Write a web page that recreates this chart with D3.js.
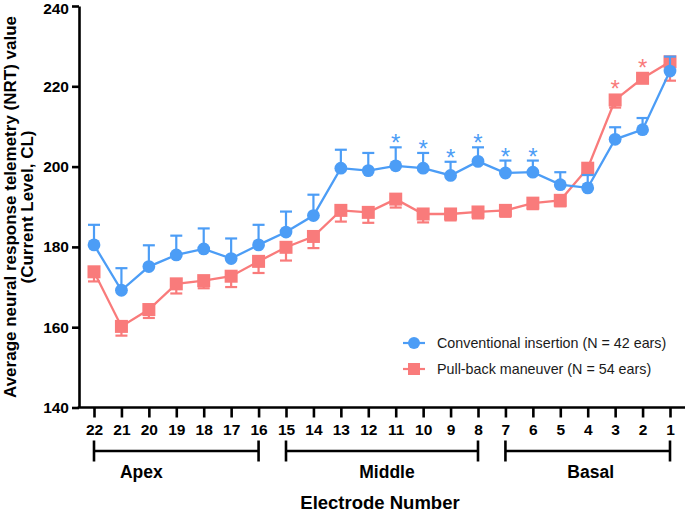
<!DOCTYPE html>
<html>
<head>
<meta charset="utf-8">
<script src="https://cdn.jsdelivr.net/npm/d3@7"></script>
<style>
html,body{margin:0;padding:0;background:#fff;}
svg{display:block;font-family:"Liberation Sans",Arial,sans-serif;}
</style>
</head>
<body>
<svg id="chart" width="685" height="514"></svg>
<script>
// ---- data ----
const electrodes = ["22","21","20","19","18","17","16","15","14","13","12","11","10","9","8","7","6","5","4","3","2","1"];
const conventionalMean = [180.5,169.2,175.1,178.0,179.5,177.1,180.5,183.7,187.8,199.6,199.0,200.2,199.6,197.8,201.3,198.4,198.6,195.5,194.7,206.8,209.2,223.8];
const conventionalSEM  = [5.0,5.5,5.3,4.8,5.1,5.0,5.0,5.1,5.2,4.6,4.4,4.6,3.8,3.4,3.5,3.1,2.9,3.1,3.2,3.0,2.9,3.6];
const pullbackMean = [173.8,160.2,164.4,170.8,171.6,172.7,176.4,179.9,182.6,189.1,188.6,191.9,188.2,188.2,188.7,189.1,190.9,191.6,199.6,216.6,222.0,226.1];
const pullbackSEM  = [2.4,2.3,2.1,2.4,1.9,2.7,2.9,3.3,2.9,2.8,2.6,2.1,2.1,1.6,1.6,1.6,1.5,1.5,1.2,1.9,1.2,4.7];
const conventionalStars = ["11","10","9","8","7","6"];
const pullbackStars = ["3","2"];
const yTicks = [140,160,180,200,220,240];
const groupNames = ["Apex","Middle","Basal"];
const groupStart = ["22","15","7"];
const groupEnd = ["16","8","1"];
const seriesNames = ["Conventional insertion (N = 42 ears)","Pull-back maneuver (N = 54 ears)"];
const xTitle = "Electrode Number";
const yTitle1 = "Average neural response telemetry (NRT) value";
const yTitle2 = "(Current Level, CL)";

// ---- styles ----
const BLUE = "#4c9df6", PINK = "#f97b7b";
const svg = d3.select("#chart");

const x = d3.scalePoint().domain(electrodes).range([94,670]);
const y = d3.scaleLinear().domain([140,240]).range([407.5,6]);
const axisX0 = 79;

// y axis
const yAxis = svg.append("g").attr("transform",`translate(${axisX0},0)`)
  .call(d3.axisLeft(y).tickValues(yTicks).tickSize(7).tickPadding(3).tickSizeOuter(0));
yAxis.select(".domain").attr("stroke","#000").attr("stroke-width",2.6);
yAxis.selectAll(".tick line").attr("stroke","#000").attr("stroke-width",2.6);
yAxis.selectAll(".tick text").attr("font-size",15.5).attr("font-weight","bold").attr("fill","#000")
  .attr("font-family","'Liberation Sans',Arial,sans-serif");
// keep the topmost label fully inside the picture
yAxis.selectAll(".tick").filter(d=>d===240).select("text").attr("dy","0.5em");

// x axis
const xAxis = svg.append("g").attr("transform",`translate(0,${y(140)})`)
  .call(d3.axisBottom(x).tickSize(10).tickPadding(6).tickSizeOuter(0));
xAxis.select(".domain").remove();
xAxis.append("line").attr("x1",axisX0-1.3).attr("x2",685).attr("y1",0).attr("y2",0)
  .attr("stroke","#000").attr("stroke-width",2.6);
xAxis.selectAll(".tick line").attr("stroke","#000").attr("stroke-width",2.6);
xAxis.selectAll(".tick text").attr("font-size",15.5).attr("font-weight","bold").attr("fill","#000")
  .attr("font-family","'Liberation Sans',Arial,sans-serif");

// group brackets
const gb = svg.append("g");
const labelShift = [-35, 5, 3];
groupNames.forEach((name,i)=>{
  const a = x(groupStart[i]), b = x(groupEnd[i]);
  gb.append("line").attr("x1",a).attr("x2",b).attr("y1",451).attr("y2",451).attr("stroke","#000").attr("stroke-width",2.6);
  gb.append("line").attr("x1",a).attr("x2",a).attr("y1",440.5).attr("y2",461.5).attr("stroke","#000").attr("stroke-width",2.6);
  gb.append("line").attr("x1",b).attr("x2",b).attr("y1",440.5).attr("y2",461.5).attr("stroke","#000").attr("stroke-width",2.6);
  gb.append("text").attr("x",(a+b)/2+labelShift[i]).attr("y",472).attr("text-anchor","middle").attr("dominant-baseline","central")
    .attr("font-size",17.5).attr("font-weight","bold").text(name);
});

// axis titles
svg.append("text").attr("x",380).attr("y",502).attr("text-anchor","middle").attr("dominant-baseline","central")
  .attr("font-size",18.5).attr("font-weight","bold").text(xTitle);
svg.append("text").attr("transform","translate(10,207) rotate(-90)").attr("text-anchor","middle").attr("dominant-baseline","central")
  .attr("font-size",17).attr("font-weight","bold").text(yTitle1);
svg.append("text").attr("transform","translate(27,207) rotate(-90)").attr("text-anchor","middle").attr("dominant-baseline","central")
  .attr("font-size",17).attr("font-weight","bold").text(yTitle2);

// series
function drawSeries(means, sems, color, dir, shape, stars){
  const g = svg.append("g");
  const data = electrodes.map((e,i)=>({e, m:means[i], s:sems[i]}));
  data.forEach(d=>{
    const y0 = y(d.m), y1 = y(d.m + dir*d.s);
    g.append("line").attr("x1",x(d.e)).attr("x2",x(d.e)).attr("y1",y0).attr("y2",y1).attr("stroke",color).attr("stroke-width",2.2);
    g.append("line").attr("x1",x(d.e)-6).attr("x2",x(d.e)+6).attr("y1",y1).attr("y2",y1).attr("stroke",color).attr("stroke-width",2.2);
  });
  g.append("path").datum(data).attr("fill","none").attr("stroke",color).attr("stroke-width",2.3)
    .attr("d",d3.line().x(d=>x(d.e)).y(d=>y(d.m)));
  if(shape==="circle"){
    g.selectAll("circle").data(data).join("circle").attr("cx",d=>x(d.e)).attr("cy",d=>y(d.m)).attr("r",6.4).attr("fill",color);
  } else {
    g.selectAll("rect.pt").data(data).join("rect").attr("class","pt").attr("x",d=>x(d.e)-6.5).attr("y",d=>y(d.m)-6.5)
      .attr("width",13).attr("height",13).attr("fill",color);
  }
  data.filter(d=>stars.includes(d.e)).forEach(d=>{
    const top = dir>0 ? y(d.m+d.s) : y(d.m)-6.5;
    g.append("text").attr("x",x(d.e)).attr("y",top+4).attr("text-anchor","middle")
      .attr("font-size",24).attr("fill",color).text("*");
  });
}
drawSeries(pullbackMean, pullbackSEM, PINK, -1, "square", pullbackStars);
drawSeries(conventionalMean, conventionalSEM, BLUE, 1, "circle", conventionalStars);

// legend
const lg = svg.append("g");
[0,1].forEach(i=>{
  const ly = i===0 ? 343 : 369;
  const col = i===0 ? BLUE : PINK;
  lg.append("line").attr("x1",403).attr("x2",425).attr("y1",ly).attr("y2",ly).attr("stroke",col).attr("stroke-width",2.2);
  if(i===0) lg.append("circle").attr("cx",414).attr("cy",ly).attr("r",6).attr("fill",col);
  else lg.append("rect").attr("x",408).attr("y",ly-6).attr("width",12).attr("height",12).attr("fill",col);
  lg.append("text").attr("x",437).attr("y",ly).attr("dominant-baseline","central").attr("font-size",14.3)
    .attr("fill","#1a1a1a").text(seriesNames[i]);
});
</script>
</body>
</html>
